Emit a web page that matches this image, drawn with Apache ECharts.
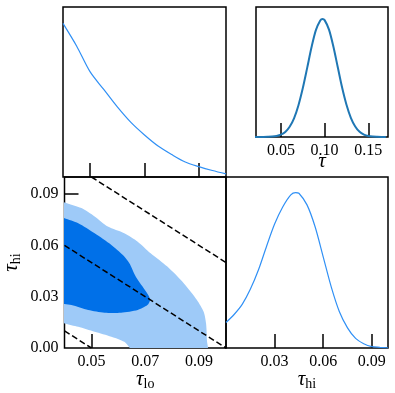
<!DOCTYPE html>
<html>
<head>
<meta charset="utf-8">
<script src="https://cdn.jsdelivr.net/npm/echarts@6/dist/echarts.min.js"></script>
<style>
  html, body { margin: 0; padding: 0; background: #fff; }
  #chartsBox { width: 395px; height: 393px; }
</style>
</head>
<body>
<div id="chartsBox"></div>
<script>
// 1D marginal of tau_lo (top-left)
const tauLo = [0.040, 0.045, 0.050, 0.055, 0.060, 0.065, 0.070, 0.075, 0.080, 0.085, 0.090, 0.095, 0.100]
const tauLoDensity = [0.904, 0.771, 0.618, 0.515, 0.412, 0.321, 0.247, 0.182, 0.132, 0.088, 0.061, 0.038, 0.018]

// 1D marginal of tau_hi (bottom-right)
const tauHi = [0.000, 0.005, 0.010, 0.015, 0.020, 0.025, 0.030, 0.035, 0.040, 0.043, 0.045, 0.050,
               0.055, 0.060, 0.065, 0.070, 0.075, 0.080, 0.085, 0.090, 0.095, 0.100]
const tauHiDensity = [0.149, 0.196, 0.255, 0.343, 0.456, 0.594, 0.725, 0.825, 0.896, 0.909, 0.905, 0.837,
                      0.709, 0.533, 0.356, 0.212, 0.118, 0.056, 0.025, 0.008, 0.004, 0.001]

// 1D marginal of total tau (top-right inset)
const tau = [0.020, 0.025, 0.030, 0.035, 0.040, 0.045, 0.050, 0.055, 0.060, 0.065, 0.070, 0.075,
             0.080, 0.085, 0.090, 0.095, 0.0976, 0.100, 0.105, 0.110, 0.115, 0.120, 0.125, 0.130, 0.135,
             0.140, 0.145, 0.150, 0.155, 0.160, 0.165, 0.170]
const tauDensity = [0, 0, 0, 0.001, 0.003, 0.008, 0.018, 0.039, 0.079, 0.144, 0.243, 0.375,
                    0.530, 0.690, 0.822, 0.897, 0.908, 0.899, 0.826, 0.696, 0.538, 0.380, 0.248, 0.148, 0.081,
                    0.040, 0.019, 0.008, 0.003, 0.001, 0, 0]

// 2D contours (tau_lo, tau_hi), outer = 95%, inner = 68%
const contourOuter = [[0.036, 0.0875], [0.040, 0.0851], [0.0463, 0.0818], [0.0512, 0.0769], [0.0561, 0.0710],
  [0.0622, 0.0671], [0.0672, 0.0622], [0.0720, 0.0554], [0.0782, 0.0476], [0.0843, 0.0379],
  [0.0892, 0.0281], [0.0917, 0.0212], [0.0926, 0.0144], [0.0929, 0.005], [0.0929, -0.005],
  [0.0665, -0.003], [0.0622, 0.0036], [0.0574, 0.0066], [0.0512, 0.0095], [0.0451, 0.0124],
  [0.040, 0.0144], [0.036, 0.016]]
const contourInner = [[0.036, 0.078], [0.040, 0.0759], [0.0451, 0.0730], [0.0512, 0.0671], [0.0574, 0.0603],
  [0.0617, 0.0544], [0.0641, 0.0496], [0.0665, 0.0417], [0.0690, 0.0359], [0.0711, 0.0310],
  [0.0718, 0.0281], [0.0708, 0.0251], [0.0672, 0.0222], [0.0610, 0.0206], [0.0549, 0.0206],
  [0.0488, 0.0222], [0.0426, 0.0251], [0.040, 0.0257], [0.036, 0.027]]

// lines of constant tau = tau_lo + tau_hi
const tauLine05 = [[0.04, 0.01], [0.05, 0.00]]
const tauLine10 = [[0.04, 0.06], [0.10, 0.00]]
const tauLine15 = [[0.05, 0.10], [0.10, 0.05]]

const tauLoTicks = [0.05, 0.07, 0.09]
const tauHiTicks = [0.03, 0.06, 0.09]
const tauHiLabels = [0.00, 0.03, 0.06, 0.09]
const tauTicks = [0.05, 0.10, 0.15]

const zip = (xs, ys) => xs.map((x, i) => [x, ys[i]])
const serif = 'Liberation Serif'
const nameRich = {
    t: { fontFamily: serif, fontStyle: 'italic', fontSize: 21, color: '#000' },
    s: { fontFamily: serif, fontSize: 14, color: '#000', padding: [10, 0, 0, 0] }
}
const tick = (vals) => ({
    show: true, inside: true, length: 14, customValues: vals,
    lineStyle: { color: '#000', width: 1.5 }
})
const label = (vals, show) => ({
    show: show, customValues: vals, margin: 6, color: '#000',
    fontFamily: serif, fontSize: 16, formatter: v => v.toFixed(2)
})
const frame = { show: true, borderColor: '#000', borderWidth: 1.5, backgroundColor: 'transparent' }
const hiddenY = (i) => ({ type: 'value', gridIndex: i, min: 0, max: 1, show: false })

const chart = echarts.init(document.getElementById('chartsBox'))
const option = {
    animation: false,
    grid: [
        { left: 63, top: 7, width: 163, height: 170, ...frame },
        { left: 256, top: 7, width: 132, height: 130, ...frame },
        { left: 63, top: 177, width: 163, height: 171, ...frame },
        { left: 226, top: 177, width: 162, height: 171, ...frame }
    ],
    xAxis: [
        { type: 'value', gridIndex: 0, min: 0.04, max: 0.10, axisLine: { show: false },
          splitLine: { show: false }, axisTick: tick(tauLoTicks), axisLabel: label(tauLoTicks, false) },
        { type: 'value', gridIndex: 1, min: 0.0215, max: 0.1725, axisLine: { show: false },
          splitLine: { show: false }, axisTick: tick(tauTicks), axisLabel: label(tauTicks, true),
          name: '{t|τ}', nameLocation: 'middle', nameGap: 14, nameMoveOverlap: false,
          nameTextStyle: { rich: nameRich } },
        { type: 'value', gridIndex: 2, min: 0.04, max: 0.10, axisLine: { show: false },
          splitLine: { show: false }, axisTick: tick(tauLoTicks), axisLabel: label(tauLoTicks, true),
          name: '{t|τ}{s|lo}', nameLocation: 'middle', nameGap: 19, nameMoveOverlap: false,
          nameTextStyle: { rich: nameRich } },
        { type: 'value', gridIndex: 3, min: 0, max: 0.10, axisLine: { show: false },
          splitLine: { show: false }, axisTick: tick(tauHiTicks), axisLabel: label(tauHiTicks, true),
          name: '{t|τ}{s|hi}', nameLocation: 'middle', nameGap: 19, nameMoveOverlap: false,
          nameTextStyle: { rich: nameRich } }
    ],
    yAxis: [
        hiddenY(0),
        hiddenY(1),
        { type: 'value', gridIndex: 2, min: 0, max: 0.10, axisLine: { show: false },
          splitLine: { show: false }, axisTick: tick(tauHiTicks), axisLabel: label(tauHiLabels, true),
          name: '{t|τ}{s|hi}', nameLocation: 'middle', nameGap: 41, nameMoveOverlap: false,
          nameTextStyle: { rich: nameRich } },
        hiddenY(3)
    ],
    series: [
        {
            type: 'custom', xAxisIndex: 2, yAxisIndex: 2, clip: true, silent: true,
            data: [[0.07, 0.05, 0], [0.07, 0.05, 1]],
            renderItem: (params, api) => {
                const inner = api.value(2) === 1
                const pts = (inner ? contourInner : contourOuter).map(p => api.coord(p))
                return {
                    type: 'polygon',
                    shape: { points: pts, smooth: 0.25 },
                    style: { fill: inner ? '#0070e8' : '#9ecaf8' }
                }
            }
        },
        ...[tauLine05, tauLine10, tauLine15].map(d => ({
            type: 'line', xAxisIndex: 2, yAxisIndex: 2, data: d, symbol: 'none',
            lineStyle: { color: '#000', width: 1.5, type: [6, 3] }
        })),
        {
            type: 'line', xAxisIndex: 0, yAxisIndex: 0, data: zip(tauLo, tauLoDensity),
            smooth: 0.3, symbol: 'none', lineStyle: { color: '#3090f5', width: 1.2 }
        },
        {
            type: 'line', xAxisIndex: 1, yAxisIndex: 1, data: zip(tau, tauDensity),
            smooth: 0.3, symbol: 'none', lineStyle: { color: '#1f77b4', width: 2 }
        },
        {
            type: 'line', xAxisIndex: 3, yAxisIndex: 3, data: zip(tauHi, tauHiDensity),
            smooth: 0.3, symbol: 'none', lineStyle: { color: '#3090f5', width: 1.2 }
        }
    ]
}
chart.setOption(option)
</script>
</body>
</html>
